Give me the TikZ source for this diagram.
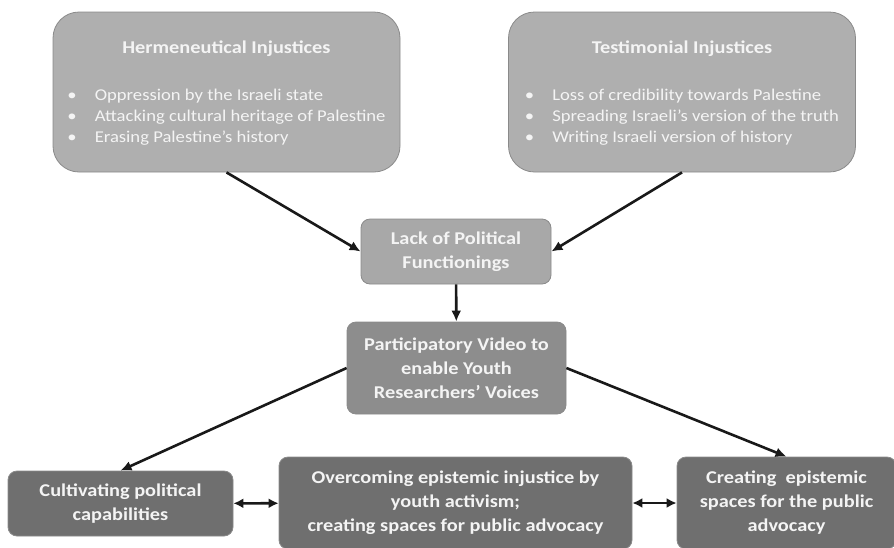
\documentclass[tikz,border=0pt]{standalone}
\usepackage{fontspec}
\setmainfont[FakeStretch=1.13]{Carlito}
\usetikzlibrary{arrows.meta}
\definecolor{boxlight}{HTML}{AFAFAF}
\definecolor{boxmid}{HTML}{A8A8A8}
\definecolor{boxvideo}{HTML}{8D8D8D}
\definecolor{boxdark}{HTML}{6F6F6F}
\definecolor{boxline}{HTML}{8A8A8A}
\definecolor{boxtext}{HTML}{F4F4F4}
\begin{document}
\begin{tikzpicture}[x=1pt,y=-1pt,
	box/.style={draw=boxline,line width=0.8pt,rounded corners=9pt,text=boxtext,align=center,
		font=\fontsize{18}{24}\selectfont\bfseries,inner sep=0pt},
	bigbox/.style={box,fill=boxlight,rounded corners=26pt,minimum width=347pt,minimum height=160pt},
	link/.style={draw=black!90,line width=2.6pt,-{Latex[length=11pt,width=10pt]}},
	both/.style={draw=black!90,line width=2.6pt,{Latex[length=10pt,width=10pt]}-{Latex[length=10pt,width=10pt]}}]
	\useasboundingbox (0,0) rectangle (894,547);
	% top row
	\node[bigbox] (herm) at (226.5,92) {~\\[-6pt]Hermeneutical Injustices\\[28pt]
		{\mdseries\fontsize{16.5}{21}\selectfont\begin{tabular}{@{}l@{\hspace{18pt}}l@{}}
		\textbullet & Oppression by the Israeli state\\
		\textbullet & Attacking cultural heritage of Palestine\\
		\textbullet & Erasing Palestine’s history\end{tabular}}};
	\node[bigbox] (test) at (682,92) {~\\[-6pt]Testimonial Injustices\\[28pt]
		{\mdseries\fontsize{16.5}{21}\selectfont\begin{tabular}{@{}l@{\hspace{18pt}}l@{}}
		\textbullet & Loss of credibility towards Palestine\\
		\textbullet & Spreading Israeli’s version of the truth\\
		\textbullet & Writing Israeli version of history\end{tabular}}};
	% middle
	\node[box,fill=boxmid,minimum width=190pt,minimum height=65pt] (lack) at (456,251.5) {Lack of Political\\Functionings};
	\node[box,fill=boxvideo,minimum width=219pt,minimum height=92pt] (video) at (456.5,368) {Participatory Video to\\enable Youth\\Researchers’ Voices};
	% bottom row
	\node[box,fill=boxdark,minimum width=225pt,minimum height=65pt] (cult) at (120.5,503.5) {Cultivating political\\capabilities};
	\node[box,fill=boxdark,minimum width=353pt,minimum height=92pt] (over) at (455.5,503) {Overcoming epistemic injustice by\\youth activism;\\creating spaces for public advocacy};
	\node[box,fill=boxdark,minimum width=219pt,minimum height=92pt] (create) at (786.5,503) {Creating\ \ epistemic\\spaces for the public\\advocacy};
	% connectors
	\draw[link] (herm.south) -- (lack.west);
	\draw[link] (test.south) -- (lack.east);
	\draw[link] (lack) -- (video);
	\draw[link] (video.west) -- (cult.north);
	\draw[link] (video.east) -- (create.north);
	\draw[both] (cult) -- (over);
	\draw[both] (over) -- (create);
\end{tikzpicture}
\end{document}
